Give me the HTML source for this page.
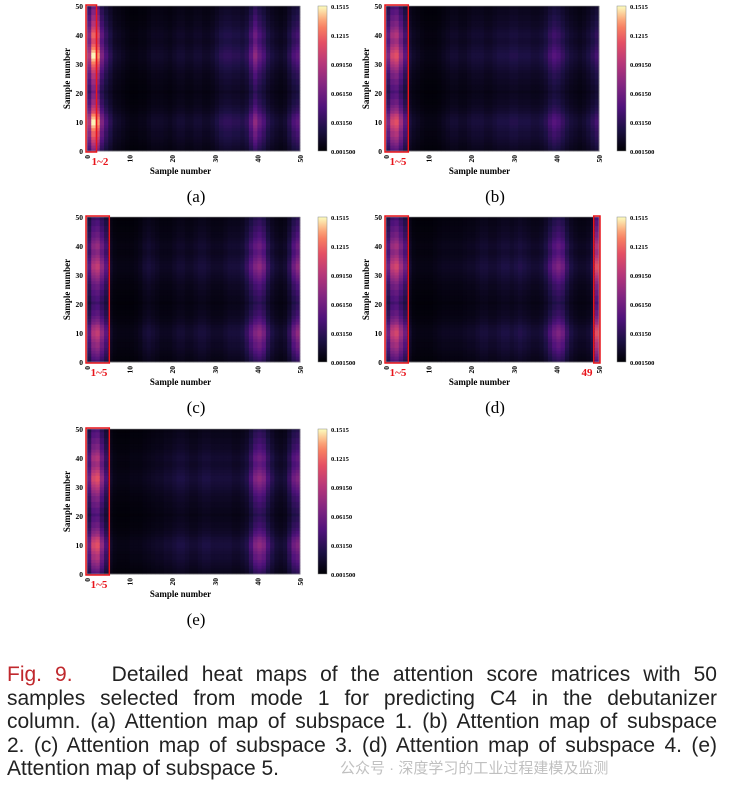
<!DOCTYPE html>
<html><head><meta charset="utf-8">
<style>
body{margin:0;background:#fff;width:740px;height:793px;overflow:hidden;font-family:"Liberation Serif",serif}
#cap{position:absolute;left:7px;top:663px;width:710px;font-family:"Liberation Sans",sans-serif;font-size:21px;line-height:23.5px;color:#222}
#cap .ln{display:block;text-align:justify;text-align-last:justify;white-space:nowrap}
#cap .last{text-align-last:left}
#cap .fig{color:#c0282d}
#wm{position:absolute;left:340px;top:757px;font-family:"Liberation Sans","Noto Sans CJK SC",sans-serif;font-size:15px;color:rgba(150,150,150,0.6)}
</style></head>
<body>
<svg id="chart" width="740" height="650" style="position:absolute;left:0;top:0"></svg>
<div id="cap"><span class="ln"><span class="fig">Fig. 9.</span>&nbsp;&nbsp; Detailed heat maps of the attention score matrices with 50</span><span class="ln">samples selected from mode 1 for predicting C4 in the debutanizer</span><span class="ln">column. (a) Attention map of subspace 1. (b) Attention map of subspace</span><span class="ln">2. (c) Attention map of subspace 3. (d) Attention map of subspace 4. (e)</span><span class="ln last">Attention map of subspace 5.</span></div>
<div id="wm">公众号 · 深度学习的工业过程建模及监测</div>
<script>
const rowProfile=[0.7,0.8,0.9,1.0,1.1,1.2,1.2,1.3,1.4,1.5,1.5,1.4,1.3,1.1,1.0,0.9,0.8,0.8,0.7,0.7,0.6,0.7,0.7,0.8,0.8,0.9,0.9,1.0,1.1,1.2,1.3,1.4,1.5,1.5,1.4,1.3,1.2,1.1,1.1,1.2,1.2,1.1,1.0,0.9,0.9,0.8,0.8,0.7,0.7,0.6];
const colsA=[0.06,0.1,0.09,0.045,0.03,0.02,0.012,0.01,0.008,0.006,0.005,0.005,0.006,0.006,0.008,0.01,0.01,0.01,0.009,0.008,0.01,0.012,0.012,0.01,0.01,0.012,0.012,0.01,0.01,0.012,0.016,0.02,0.022,0.022,0.02,0.02,0.018,0.022,0.035,0.05,0.038,0.03,0.02,0.015,0.012,0.01,0.012,0.02,0.03,0.035];
const colsB=[0.045,0.07,0.075,0.055,0.035,0.015,0.01,0.008,0.006,0.005,0.005,0.005,0.006,0.008,0.01,0.012,0.012,0.01,0.01,0.012,0.014,0.014,0.014,0.012,0.012,0.014,0.016,0.016,0.016,0.018,0.018,0.016,0.016,0.016,0.014,0.014,0.016,0.02,0.028,0.033,0.03,0.024,0.018,0.014,0.012,0.01,0.012,0.016,0.022,0.028];
const colsC=[0.035,0.06,0.065,0.05,0.035,0.01,0.006,0.005,0.005,0.005,0.005,0.006,0.008,0.012,0.014,0.012,0.01,0.008,0.008,0.008,0.01,0.012,0.012,0.01,0.01,0.012,0.014,0.014,0.012,0.01,0.01,0.01,0.012,0.014,0.014,0.014,0.016,0.024,0.035,0.045,0.05,0.042,0.025,0.016,0.012,0.01,0.012,0.022,0.04,0.05];
const colsD=[0.04,0.065,0.07,0.055,0.04,0.012,0.006,0.005,0.005,0.005,0.005,0.006,0.007,0.008,0.008,0.008,0.008,0.008,0.009,0.01,0.01,0.012,0.014,0.014,0.012,0.012,0.014,0.016,0.016,0.014,0.016,0.018,0.016,0.014,0.012,0.012,0.014,0.02,0.03,0.04,0.045,0.04,0.025,0.016,0.012,0.01,0.01,0.012,0.02,0.075];
const colsE=[0.04,0.07,0.075,0.05,0.03,0.01,0.006,0.005,0.005,0.005,0.006,0.006,0.006,0.007,0.008,0.009,0.01,0.01,0.012,0.012,0.014,0.016,0.016,0.014,0.012,0.012,0.014,0.016,0.016,0.014,0.014,0.014,0.014,0.014,0.012,0.012,0.014,0.018,0.03,0.045,0.05,0.045,0.03,0.02,0.014,0.012,0.014,0.025,0.04,0.045];
const cbTicks=["0.001500","0.03150","0.06150","0.09150","0.1215","0.1515"];
const xTicks=["0","10","20","30","40","50"];
const vmin=0.0015,vmax=0.1515;
const stops=[[0,[0,0,4]],[0.15,[28,16,68]],[0.3,[79,18,123]],[0.45,[129,37,129]],[0.6,[181,54,122]],[0.75,[229,80,100]],[0.87,[251,135,97]],[1,[252,253,191]]];
function cmap(v){let t=Math.max(0,Math.min(1,(v-vmin)/(vmax-vmin)));for(let i=1;i<stops.length;i++){if(t<=stops[i][0]){const a=stops[i-1],b=stops[i];const f=(t-a[0])/(b[0]-a[0]);return 'rgb('+a[1].map((c,k)=>Math.round(c+(b[1][k]-c)*f)).join(',')+')';}}return 'rgb(252,253,191)';}
const NS='http://www.w3.org/2000/svg';const svg=document.getElementById('chart');
function el(tag,attrs,parent,text){const e=document.createElementNS(NS,tag);for(const k in attrs)e.setAttribute(k,attrs[k]);if(text!==undefined)e.textContent=text;(parent||svg).appendChild(e);return e;}
function panel(id,x0,y0,cols,hl,lbl){
  const W=213,H=145;const xs=c=>x0+c*W/50;const ys=r=>y0+H-(r+1)*H/50;
  const g=el('g',{});
  for(let c=0;c<50;c++)for(let r=0;r<50;r++){
    const rc=el('rect',{x:xs(c).toFixed(2),y:ys(r).toFixed(2),width:(W/50+0.4).toFixed(2),height:(H/50+0.4).toFixed(2),fill:cmap(cols[c]*rowProfile[r])},g);
    
    
  }
  el('rect',{x:x0,y:y0,width:W,height:H,fill:'none',stroke:'#999','stroke-width':0.6});
  for(let i=0;i<=5;i++){const y=y0+H-i*H/5;el('text',{x:x0-4,y:y+3,'font-size':7.5,'font-weight':'bold','text-anchor':'end'},svg,String(i*10));}
  xTicks.forEach((t,i)=>{const x=x0+i*W/5;const tx=el('text',{x:0,y:0,'font-size':7.5,'font-weight':'bold','text-anchor':'end',transform:`translate(${x+3},${y0+H+4}) rotate(-90)`},svg,t);});
  const yl=el('text',{x:0,y:0,'font-size':9,'font-weight':'bold','text-anchor':'middle',transform:`translate(${x0-17},${y0+H/2}) rotate(-90)`},svg,'Sample number');
  const xl=el('text',{x:x0+W/2-13,y:y0+H+23,'font-size':9,'font-weight':'bold','text-anchor':'middle'},svg,'Sample number');
  hl.forEach(h=>{const r=el('rect',{x:xs(h[0])-1,y:y0-1,width:(h[1]-h[0])*W/50+2,height:H+2,fill:'none',stroke:'#e8141b','stroke-width':1.5});
    const t=el('text',{x:x0+h[3],y:y0+H+14,'font-size':11,'font-weight':'bold',fill:'#e8141b','text-anchor':'middle'},svg,h[2]);});
  const cx=x0+231;const defs=el('defs',{});const lg=el('linearGradient',{id:'g'+id,x1:0,y1:1,x2:0,y2:0},defs);
  for(let i=0;i<=20;i++)el('stop',{offset:i/20,'stop-color':cmap(vmin+(vmax-vmin)*i/20)},lg);
  const cb=el('rect',{x:cx,y:y0,width:9,height:H,fill:`url(#g${id})`,stroke:'#888','stroke-width':0.5});
  cbTicks.forEach((t,i)=>{const y=y0+H-i*H/5;el('text',{x:cx+13,y:y+3,'font-size':6.5,'font-weight':'bold'},svg,t);});
  const pl=el('text',{x:x0+109,y:y0+H+51,'font-size':17,'text-anchor':'middle'},svg,'('+lbl+')');
}
panel('a',87,6,colsA,[[0,2,'1~2',13]],'a');
panel('b',386,6,colsB,[[0,5,'1~5',12]],'b');
panel('c',87,217,colsC,[[0,5,'1~5',12]],'c');
panel('d',386,217,colsD,[[0,5,'1~5',12],[49,50,'49',201]],'d');
panel('e',87,429,colsE,[[0,5,'1~5',12]],'e');
</script>
</body></html>
